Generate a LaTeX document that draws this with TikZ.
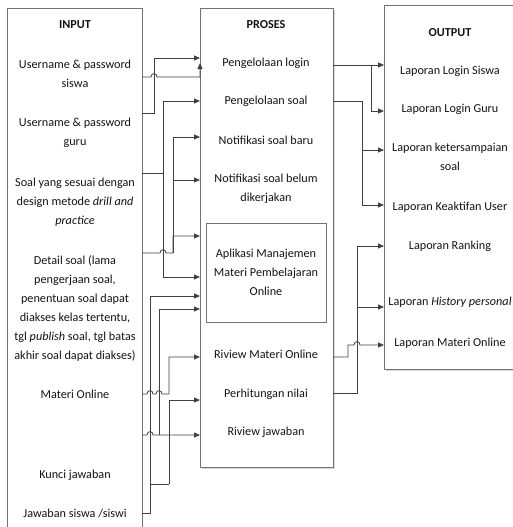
\documentclass[tikz,border=0pt]{standalone}
\usepackage{fontspec}
\setmainfont{Carlito}
\usetikzlibrary{arrows.meta}
\begin{document}
\begin{tikzpicture}[x=1pt,y=-1pt,
  txt/.style={font=\fontsize{12.2}{19}\selectfont, text=black!92, inner sep=0pt, align=center},
  head/.style={txt, font=\fontsize{12.2}{19}\selectfont\bfseries},
  box/.style={draw=black!55, line width=0.9pt, fill=white, inner sep=0pt},
  shade/.style={fill=black!15, draw=none, inner sep=0pt},
  conn/.style={draw=black!75, line width=0.8pt},
  arr/.style={conn, -{Triangle[length=6pt,width=5pt]}},
]
\useasboundingbox (0,0) rectangle (513,527);
\clip (0,0) rectangle (513,527);
% shadows
\node[shade, minimum width=133pt, minimum height=459pt] at (268,239.5) {};
\node[shade, minimum width=136pt, minimum height=364pt] at (454,189) {};
% boxes
\node[box, minimum width=135pt, minimum height=537pt] (inbox) at (74.5,276.5) {};
\node[box, minimum width=133pt, minimum height=459pt] (probox) at (266.5,237.5) {};
\node[box, minimum width=136pt, minimum height=364pt] (outbox) at (452,187) {};
\node[box, minimum width=120pt, minimum height=99pt] (appbox) at (266,272.5) {};
% input texts
\node[head] (tin) at (75,25) {INPUT};
\node[txt] (iUs) at (75,73.5) {Username \& password\\siswa};
\node[txt] (iUg) at (75,132.5) {Username \& password\\guru};
\node[txt] (iSoal) at (75,202) {Soal yang sesuai dengan\\design metode \textit{drill and}\\\textit{practice}};
\node[txt] (iDet) at (75,308.5) {Detail soal (lama\\pengerjaan soal,\\penentuan soal dapat\\diakses kelas tertentu,\\tgl \textit{publish} soal, tgl batas\\akhir soal dapat diakses)};
\node[txt] (iMat) at (75,394) {Materi Online};
\node[txt] (iKun) at (75,475) {Kunci jawaban};
\node[txt] (iJaw) at (75,514) {Jawaban siswa /siswi};
% proses texts
\node[head] (tpro) at (266,25) {PROSES};
\node[txt] (pLog) at (266,63) {Pengelolaan login};
\node[txt] (pSoal) at (266,101) {Pengelolaan soal};
\node[txt] (pNb) at (266,140) {Notifikasi soal baru};
\node[txt] (pNbl) at (266,189) {Notifikasi soal belum\\dikerjakan};
\node[txt] (pApp) at (266,272) {Aplikasi Manajemen\\Materi Pembelajaran\\Online};
\node[txt] (pRiv) at (266,354) {Riview Materi Online};
\node[txt] (pHit) at (266,394) {Perhitungan nilai};
\node[txt] (pJaw) at (266,432) {Riview jawaban};
% output texts
\node[head] (tout) at (450,33) {OUTPUT};
\node[txt] (oLs) at (450,71) {Laporan Login Siswa};
\node[txt] (oLg) at (450,109) {Laporan Login Guru};
\node[txt] (oKet) at (450,157) {Laporan ketersampaian\\soal};
\node[txt] (oKea) at (450,207) {Laporan Keaktifan User};
\node[txt] (oRank) at (450,246) {Laporan Ranking};
\node[txt] (oHis) at (450,302) {Laporan \textit{History personal}};
\node[txt] (oMat) at (450,343) {Laporan Materi Online};
% connection points on the input box
\coordinate (a1) at (142,77);
\coordinate (a2) at (142,113);
\coordinate (a3) at (142,173);
\coordinate (a4) at (142,253);
\coordinate (a5) at (142,394);
\coordinate (a6) at (142,435);
\coordinate (a7) at (142,513);
% input -> proses
\draw[arr] (a1) -- (151,77) .. controls (151,72.5) and (157,72.5) .. (157,77) -- (200,77) -- (200,63);
\draw[arr] (a2) -- (154,113) |- (200,58);
\draw[arr] (a3) -- (163,173) |- (200,101);
\draw[arr] (163,173) |- (200,277);
\draw[arr] (a4) -- (160,253) .. controls (160,248.5) and (166,248.5) .. (166,253) -- (173,253) |- (200,236);
\draw[arr] (173,253) |- (200,180);
\draw[arr] (173,253) |- (200,137);
\draw[arr] (a5) -- (147,394) .. controls (147,389.5) and (153,389.5) .. (153,394) -- (156,394) .. controls (156,389.5) and (162,389.5) .. (162,394) -- (169,394) |- (200,357);
\draw[arr] (a6) -- (147,435) .. controls (147,430.5) and (153,430.5) .. (153,435) -- (200,435);
\draw[arr] (159,435) |- (200,309);
\draw[arr] (169,484) |- (200,400);
\draw[arr] (a7) -- (150,513) |- (200,296);
\draw[conn] (150,484) -- (169,484);
% proses -> output
\draw[arr] (probox.east |- 0,65) -- (384,65);
\draw[arr] (371,65) |- (384,111);
\draw[arr] (probox.east |- 0,101) -- (362,101) |- (384,205);
\draw[arr] (362,150) -- (384,150);
\draw[arr] (probox.east |- 0,357) -- (348,357) |- (354,345) .. controls (354,340.5) and (360,340.5) .. (360,345) -- (384,345);
\draw[arr] (probox.east |- 0,393) -- (357,393) |- (384,246);
\draw[arr] (357,307) -- (384,307);
\end{tikzpicture}
\end{document}
